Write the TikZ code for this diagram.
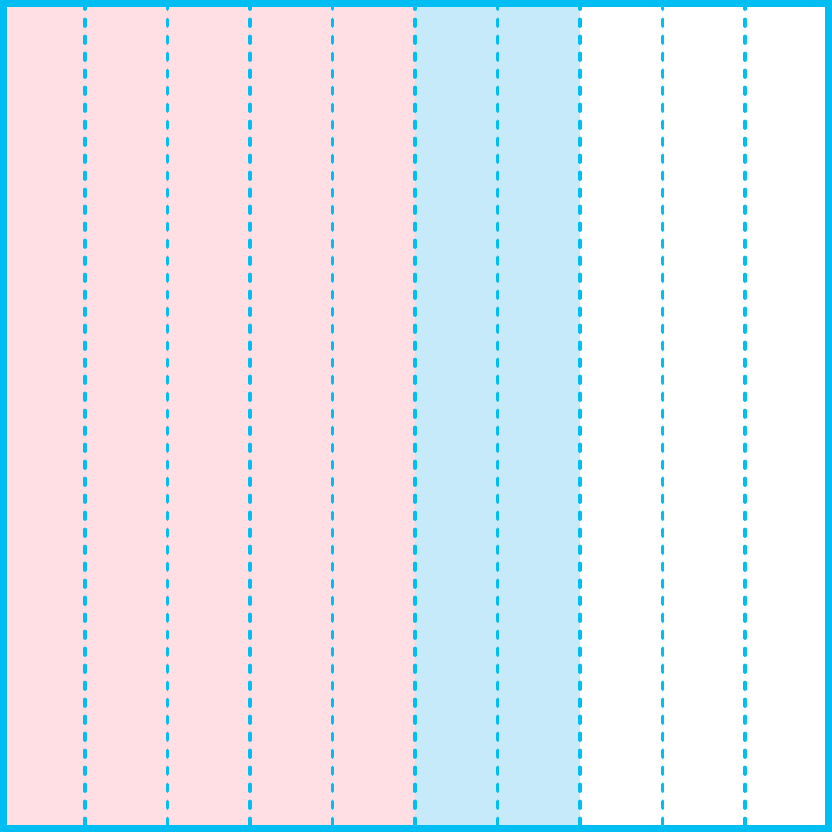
\documentclass[tikz,border=0pt]{standalone}
\usepackage{xcolor}
\definecolor{edgecyan}{HTML}{00BEF2}
\definecolor{partpink}{HTML}{FFDFE4}
\definecolor{partblue}{HTML}{C7EAFB}
\tikzset{frame/.style={draw=edgecyan,line width=7pt},
 divider/.style={draw=edgecyan,line width=3.8pt,line cap=round,dash pattern=on 6.5pt off 10.5pt}}

\begin{document}
\begin{tikzpicture}[x=1pt,y=1pt]
\useasboundingbox (0,0) rectangle (832,832);
\fill[partpink] (3.5,3.5) rectangle (415,828.5);
\fill[partblue] (415,3.5) rectangle (580,828.5);
\foreach \k in {1,...,9}{
  \draw[divider] ({2.5+82.5*\k},7) -- ({2.5+82.5*\k},825);
}
\draw[frame] (3.5,3.5) rectangle (828.5,828.5);
\end{tikzpicture}
\end{document}
